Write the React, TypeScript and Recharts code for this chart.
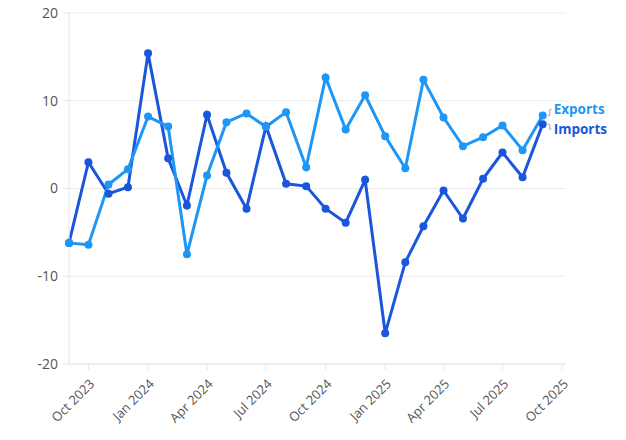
import React from "react";
import { LineChart, Line, XAxis, YAxis, CartesianGrid } from "recharts";

const months = [
  "2023-09", "2023-10", "2023-11", "2023-12", "2024-01", "2024-02", "2024-03",
  "2024-04", "2024-05", "2024-06", "2024-07", "2024-08", "2024-09", "2024-10",
  "2024-11", "2024-12", "2025-01", "2025-02", "2025-03", "2025-04", "2025-05",
  "2025-06", "2025-07", "2025-08", "2025-09",
];
const exportsVals = [
  -6.2, -6.4, 0.46, 2.2, 8.2, 7.07, -7.5, 1.48, 7.56, 8.55, 7.03, 8.7, 2.43,
  12.65, 6.72, 10.63, 5.96, 2.31, 12.39, 8.09, 4.82, 5.85, 7.18, 4.37, 8.32,
];
const importsVals = [
  -6.2, 3.0, -0.6, 0.15, 15.4, 3.45, -1.94, 8.4, 1.79, -2.3, 7.1, 0.53, 0.27,
  -2.3, -3.9, 0.99, -16.5, -8.4, -4.3, -0.23, -3.42, 1.1, 4.1, 1.29, 7.33,
];
const xTickMonths = [
  "2023-10", "2024-01", "2024-04", "2024-07", "2024-10", "2025-01", "2025-04",
  "2025-07", "2025-10",
];
const yTicks = [-20, -10, 0, 10, 20];
const monthNames = ["Jan", "Feb", "Mar", "Apr", "May", "Jun", "Jul", "Aug", "Sep", "Oct", "Nov", "Dec"];

const toTs = (m: string) => {
  const [y, mo] = m.split("-").map(Number);
  return Date.UTC(y, mo - 1, 1);
};
const fmt = (ts: number) => {
  const d = new Date(ts);
  return `${monthNames[d.getUTCMonth()]} ${d.getUTCFullYear()}`;
};

const data = months.map((m, i) => ({
  t: toTs(m),
  exports: exportsVals[i],
  imports: importsVals[i],
}));
const xTicks = xTickMonths.map(toTs);
const domainStart = toTs("2023-09");
const domainEnd = toTs("2025-10") + 6 * 86400000;

const EXP = "#1e96f5";
const IMP = "#1a56db";
const FONT = "'Open Sans', sans-serif";

const XTick = (props: any) => {
  const { x, y, payload } = props;
  return (
    <g transform={`translate(${x + 4},${y + 10})`}>
      <text
        x={0}
        y={0}
        dy={4}
        textAnchor="end"
        transform="rotate(-45)"
        fill="#555"
        fontSize={13}
        fontFamily={FONT}
      >
        {fmt(payload.value)}
      </text>
    </g>
  );
};

const makeEndLabel = (name: string, color: string, dy: number) => (props: any) => {
  const { x, y, index } = props;
  if (index !== months.length - 1) return null;
  const ty = y + dy;
  return (
    <g>
      <path
        d={`M${x + 5},${y} L${x + 7},${y} L${x + 7},${ty} L${x + 9},${ty}`}
        stroke="#aaa"
        strokeWidth={1}
        fill="none"
      />
      <text
        x={x + 11}
        y={ty}
        dy={5}
        fill={color}
        fontSize={13.5}
        fontWeight={700}
        fontFamily={FONT}
      >
        {name}
      </text>
    </g>
  );
};

export default function App() {
  return (
    <div style={{ position: "absolute", left: 0, top: 0, width: 626, height: 440, background: "#fff" }}>
      <LineChart
        width={626}
        height={440}
        data={data}
        margin={{ top: 13, right: 60, bottom: 0, left: 0 }}
      >
        <CartesianGrid vertical={false} stroke="#ebebeb" />
        <XAxis
          dataKey="t"
          type="number"
          scale="linear"
          domain={[domainStart, domainEnd]}
          ticks={xTicks}
          tick={<XTick />}
          height={76}
          stroke="#e6e6e6"
          tickLine={{ stroke: "#e6e6e6" }}
          interval={0}
        />
        <YAxis
          type="number"
          domain={[-20, 20]}
          ticks={yTicks}
          width={69}
          stroke="#e6e6e6"
          tickLine={{ stroke: "#e6e6e6" }}
          tickSize={6}
          tickMargin={5}
          tick={{ fill: "#555", fontSize: 14, fontFamily: FONT }}
        />
        <Line
          dataKey="imports"
          stroke={IMP}
          strokeWidth={3}
          dot={{ r: 4, fill: IMP, stroke: IMP, strokeWidth: 0 }}
          activeDot={false}
          isAnimationActive={false}
          label={makeEndLabel("Imports", IMP, 5)}
        />
        <Line
          dataKey="exports"
          stroke={EXP}
          strokeWidth={3}
          dot={{ r: 4, fill: EXP, stroke: EXP, strokeWidth: 0 }}
          activeDot={false}
          isAnimationActive={false}
          label={makeEndLabel("Exports", EXP, -6)}
        />
      </LineChart>
    </div>
  );
}
